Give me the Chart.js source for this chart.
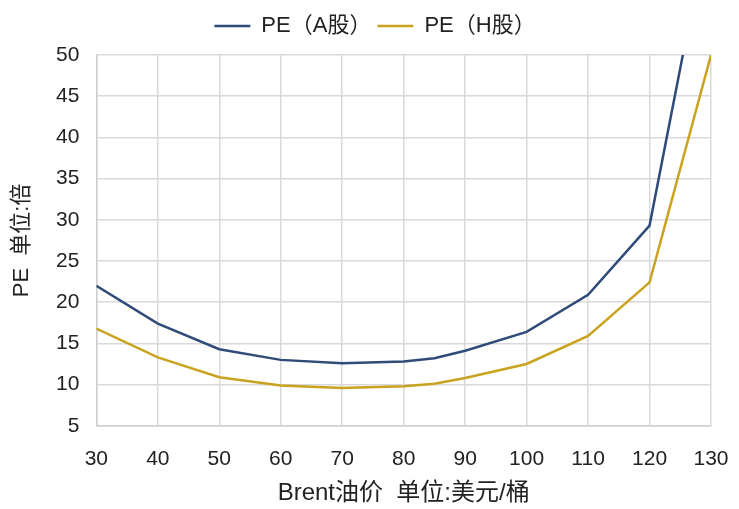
<!DOCTYPE html>
<html>
<head>
<meta charset="utf-8">
<script src="https://cdn.jsdelivr.net/npm/chart.js@4/dist/chart.umd.min.js"></script>
<style>
  html, body { margin: 0; padding: 0; background: #fff; }
  #wrap { width: 739px; height: 509px; position: relative; }
</style>
</head>
<body>
<div id="wrap"><canvas id="peChart"></canvas></div>
<script>
// Brent油价 vs PE
const oilPrice = [30, 40, 50, 60, 70, 80, 85, 90, 100, 110, 120, 130];
const peA = [22.0, 17.4, 14.3, 13.0, 12.6, 12.8, 13.2, 14.1, 16.4, 20.9, 29.3, 67.5];
const peH = [16.8, 13.3, 10.9, 9.9, 9.6, 9.8, 10.1, 10.8, 12.5, 15.9, 22.4, 50.0];
const seriesNames = ['PE（A股）', 'PE（H股）'];
const xTitle = 'Brent油价  单位:美元/桶';
const yTitle = 'PE  单位:倍';

const FONT = "'Liberation Sans', 'Noto Sans CJK SC', sans-serif";
const gridColor = '#d9d9d9';

function toPoints(xs, ys) {
    return xs.map((x, i) => ({ x: x, y: ys[i] }));
}

// extra space under the legend
const legendGap = {
    id: 'legendGap',
    beforeInit(chart) {
        const origFit = chart.legend.fit;
        chart.legend.fit = function() {
            origFit.bind(chart.legend)();
            this.height += 8;
        };
    }
};

new Chart(document.getElementById('peChart'), {
    type: 'line',
    data: {
        datasets: [{
            label: seriesNames[0],
            data: toPoints(oilPrice, peA),
            borderColor: '#2f4b78',
            backgroundColor: '#2f4b78',
            borderWidth: 2.5,
            pointRadius: 0,
            tension: 0
        }, {
            label: seriesNames[1],
            data: toPoints(oilPrice, peH),
            borderColor: '#c9a21f',
            backgroundColor: '#c9a21f',
            borderWidth: 2.5,
            pointRadius: 0,
            tension: 0
        }]
    },
    plugins: [legendGap],
    options: {
        responsive: true,
        maintainAspectRatio: false,
        animation: false,
        layout: { padding: { left: 11, right: 0, top: 9, bottom: 4 } },
        plugins: {
            legend: {
                position: 'top',
                labels: {
                    usePointStyle: true,
                    pointStyle: 'line',
                    pointStyleWidth: 36,
                    color: '#222',
                    font: { family: FONT, size: 22 },
                    padding: 6
                }
            },
            tooltip: { enabled: false }
        },
        scales: {
            x: {
                type: 'linear',
                min: 30,
                max: 130,
                afterFit: function(scale) {
                    scale.paddingRight = 28; // room for the "130" label
                },
                ticks: {
                    stepSize: 10,
                    color: '#222',
                    font: { family: FONT, size: 21 },
                    padding: 21
                },
                grid: { color: gridColor, lineWidth: 1.5, drawTicks: false },
                border: { color: '#cfcfcf', width: 1.5 },
                title: {
                    display: true,
                    text: xTitle,
                    color: '#222',
                    font: { family: FONT, size: 24, lineHeight: 1 },
                    padding: { top: -12, bottom: 0 }
                }
            },
            y: {
                min: 5,
                max: 50,
                ticks: {
                    stepSize: 5,
                    color: '#222',
                    font: { family: FONT, size: 21 },
                    padding: 17
                },
                grid: { color: gridColor, lineWidth: 1.5, drawTicks: false },
                border: { color: '#cfcfcf', width: 1.5 },
                title: {
                    display: true,
                    text: yTitle,
                    color: '#222',
                    font: { family: FONT, size: 22, lineHeight: 1 },
                    padding: { top: 0, bottom: 6 }
                }
            }
        }
    }
});
</script>
</body>
</html>
